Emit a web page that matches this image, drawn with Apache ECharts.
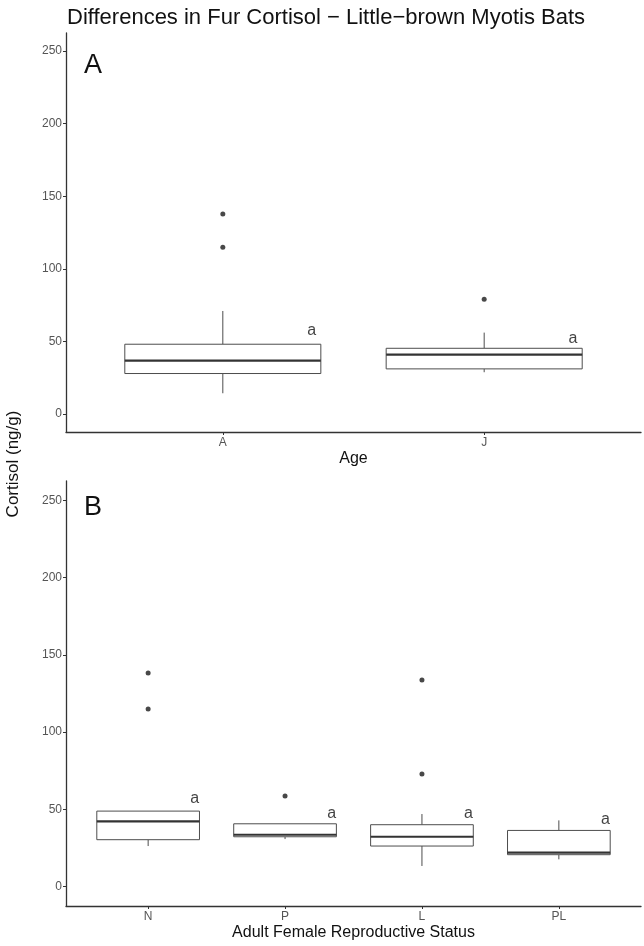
<!DOCTYPE html>
<html>
<head>
<meta charset="utf-8">
<script src="https://cdn.jsdelivr.net/npm/echarts@6/dist/echarts.min.js"></script>
<style>
  html, body { margin: 0; padding: 0; background: #fff; }
  #main { width: 644px; height: 946px; }
</style>
</head>
<body>
<div id="main"></div>
<script>
// panel A: age groups  [low whisker, Q1, median, Q3, high whisker]
const ageCats = ["A", "J"];
const ageStats = [
  [14.2, 27.8, 36.7, 48.0, 70.9],
  [28.7, 31.0, 40.8, 45.2, 56.0],
];
const ageOutliers = [[1, 137.7], [1, 114.8], [2, 79.0]];
const ageLetterY = [57.4, 51.9];

// panel B: adult female reproductive status
const repCats = ["N", "P", "L", "PL"];
const repStats = [
  [26.3, 30.4, 42.3, 48.9, 48.9],
  [30.8, 32.3, 33.6, 40.7, 40.7],
  [13.4, 26.3, 32.3, 40.1, 47.0],
  [17.7, 20.7, 22.0, 36.4, 42.9],
];
const repOutliers = [[1, 138.2], [1, 114.9], [2, 58.6], [3, 133.8], [3, 72.9]];
const repLetterY = [56.9, 47.4, 47.0, 43.1];

const yTicks = [0, 50, 100, 150, 200, 250];
const FONT = "Liberation Sans, Arial, sans-serif";

const chart = echarts.init(document.getElementById("main"));

function renderBox(params, api) {
  const x = api.value(0);
  const lo = api.coord([x, api.value(1)]);
  const q1 = api.coord([x, api.value(2)]);
  const med = api.coord([x, api.value(3)]);
  const q3 = api.coord([x, api.value(4)]);
  const hi = api.coord([x, api.value(5)]);
  const half = api.size([0.75, 0])[0] / 2;
  const grey = "#4d4d4d";
  return {
    type: "group",
    children: [
      { type: "line", shape: { x1: lo[0], y1: lo[1], x2: q1[0], y2: q1[1] }, style: { stroke: grey, lineWidth: 1 } },
      { type: "line", shape: { x1: q3[0], y1: q3[1], x2: hi[0], y2: hi[1] }, style: { stroke: grey, lineWidth: 1 } },
      { type: "rect", shape: { x: q1[0] - half, y: q3[1], width: half * 2, height: q1[1] - q3[1] },
        style: { fill: "#fff", stroke: grey, lineWidth: 1 } },
      { type: "line", shape: { x1: med[0] - half, y1: med[1], x2: med[0] + half, y2: med[1] },
        style: { stroke: "#333", lineWidth: 2.2 } },
    ],
  };
}

function xAxisFor(cats, gridIndex, name, gap) {
  const vals = cats.map((c, i) => i + 1);
  return {
    type: "value", gridIndex: gridIndex, min: 0.4, max: cats.length + 0.6,
    name: name, nameLocation: "middle", nameGap: gap,
    nameTextStyle: { fontSize: 16, color: "#111", fontFamily: FONT },
    splitLine: { show: false },
    axisLine: { show: true, onZero: false, lineStyle: { color: "#333", width: 1.3 } },
    axisTick: { show: true, length: 3, customValues: vals, lineStyle: { color: "#333" } },
    axisLabel: { customValues: vals, margin: 5, fontSize: 12, color: "#555", fontFamily: FONT,
      formatter: (v) => cats[Math.round(v) - 1] },
  };
}

function yAxisFor(gridIndex) {
  return {
    type: "value", gridIndex: gridIndex, min: -12.5, max: 262.5,
    splitLine: { show: false },
    axisLine: { show: true, onZero: false, lineStyle: { color: "#333", width: 1.3 } },
    axisTick: { show: true, length: 3, customValues: yTicks, lineStyle: { color: "#333" } },
    axisLabel: { customValues: yTicks, margin: 4, fontSize: 12, color: "#555", fontFamily: FONT },
  };
}

function panelSeries(stats, outliers, letterY, idx) {
  return [
    {
      type: "custom", xAxisIndex: idx, yAxisIndex: idx,
      renderItem: renderBox,
      encode: { x: 0, y: [1, 2, 3, 4, 5] },
      data: stats.map((s, i) => [i + 1].concat(s)),
      silent: true,
    },
    {
      type: "scatter", xAxisIndex: idx, yAxisIndex: idx,
      symbolSize: 5, itemStyle: { color: "#1a1a1a" },
      data: outliers, silent: true,
    },
    {
      type: "scatter", xAxisIndex: idx, yAxisIndex: idx,
      symbolSize: 0, silent: true,
      label: { show: true, position: "inside", formatter: "a", fontSize: 16,
        color: "#111", fontFamily: FONT },
      data: letterY.map((y, i) => [i + 1 + 0.34, y]),
    },
  ];
}

chart.setOption({
  animation: false,
  backgroundColor: "#fff",
  title: {
    text: "Differences in Fur Cortisol \u2212 Little\u2212brown Myotis Bats",
    left: 62, top: 2,
    textStyle: { fontSize: 22, fontWeight: "normal", color: "#111", fontFamily: FONT },
  },
  grid: [
    { left: 66, top: 33, width: 575, height: 399 },
    { left: 66, top: 481, width: 575, height: 425 },
  ],
  xAxis: [xAxisFor(ageCats, 0, "Age", 19), xAxisFor(repCats, 1, "Adult Female Reproductive Status", 19)],
  yAxis: [yAxisFor(0), yAxisFor(1)],
  graphic: [
    { type: "text", left: 84, top: 52, style: { text: "A", fontSize: 27, fill: "#111", fontFamily: FONT } },
    { type: "text", left: 84, top: 494, style: { text: "B", fontSize: 27, fill: "#111", fontFamily: FONT } },
    { type: "text", x: 13, y: 464, rotation: Math.PI / 2,
      style: { text: "Cortisol (ng/g)", fontSize: 17, fill: "#111", fontFamily: FONT,
        align: "center", verticalAlign: "middle" } },
  ],
  series: panelSeries(ageStats, ageOutliers, ageLetterY, 0)
    .concat(panelSeries(repStats, repOutliers, repLetterY, 1)),
});
</script>
</body>
</html>
